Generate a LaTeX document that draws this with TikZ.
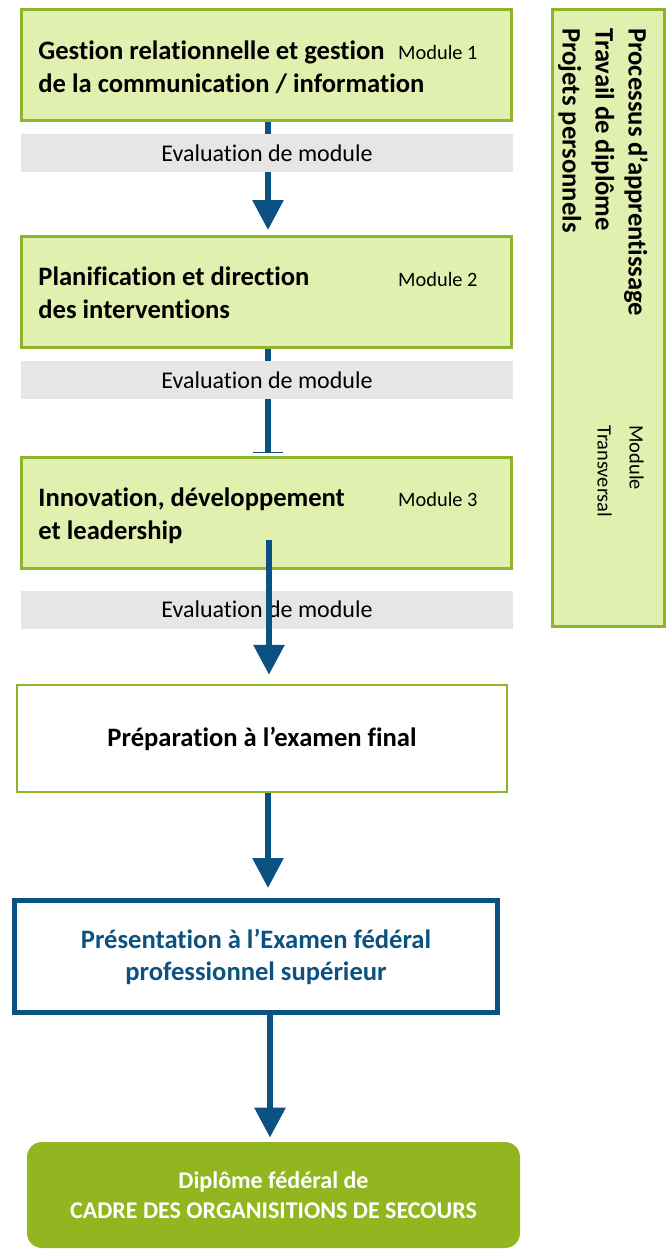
\documentclass[tikz,border=0pt]{standalone}
\usepackage{fontspec}
\setmainfont{Carlito}[Ligatures=NoCommon]
\usetikzlibrary{arrows.meta}
\usetikzlibrary{positioning}
\usetikzlibrary{backgrounds}
\usepackage{xcolor}

\definecolor{vertbord}{HTML}{8DB52B}
\definecolor{vertfond}{HTML}{E2F0AF}
\definecolor{vertfonce}{HTML}{92B620}
\definecolor{bleufleche}{HTML}{0B5283}
\definecolor{grisbande}{HTML}{E6E6E6}

\tikzset{
 modbox/.style={draw=vertbord, fill=vertfond, line width=1.5pt, inner sep=0pt,
   minimum width=245pt, minimum height=55.5pt},
 modtitre/.style={anchor=base west, align=left, inner sep=0pt,
   font=\fontsize{13.3}{16.5}\selectfont\bfseries},
 modnum/.style={anchor=base east, inner sep=0pt, font=\fontsize{10.2}{12}\selectfont},
 bande/.style={fill=grisbande, inner sep=0pt, minimum width=246pt, minimum height=19pt,
   font=\fontsize{12}{14}\selectfont},
 fleche/.style={draw=bleufleche, line width=3pt, -{Triangle[width=15pt,length=15pt]}},
}

\begin{document}
\begin{tikzpicture}[x=0.5pt,y=-0.5pt]
\useasboundingbox (0,0) rectangle (669,1250);

% module transversal (base = derniere ligne)
\node[modbox, minimum width=56pt, minimum height=308.5pt] (trans) at (608.5,318) {};
\node[modtitre, rotate=-90] (transtitre) at (562.5,28)
  {Processus d’apprentissage\\Travail de diplôme\\Projets personnels};
\node[modnum, anchor=base west, align=left, rotate=-90,
  font=\fontsize{10.2}{16}\selectfont] (transnum) at (597.5,425) {Module\\Transversal};

% modules 1-3
\node[modbox] (m1) at (266.5,65) {};
\node[modtitre] (t1) at (38,92) {Gestion relationnelle et gestion\\de la communication / information};
\node[modnum] (n1) at (478,59) {Module 1};

\node[modbox] (m2) at (266.5,291.5) {};
\node[modtitre] (t2) at (38,318) {Planification et direction\\des interventions};
\node[modnum] (n2) at (478,286) {Module 2};

\node[modbox] (m3) at (266.5,513) {};
\node[modtitre] (t3) at (38,539) {Innovation, développement\\et leadership};
\node[modnum] (n3) at (478,506) {Module 3};

% examen
\node[draw=vertbord, line width=1.25pt, minimum width=245pt, minimum height=53.5pt,
  font=\fontsize{13.3}{16.5}\selectfont\bfseries] (prep) at (262,738.5)
  {Préparation à l’examen final};
\node[draw=bleufleche, line width=2.5pt, minimum width=241.5pt, minimum height=56pt,
  align=center, text=bleufleche, font=\fontsize{13.3}{16}\selectfont\bfseries] (pres) at (256,956.5)
  {Présentation à l’Examen fédéral\\professionnel supérieur};
\node[fill=vertfonce, rounded corners=7.5pt, minimum width=246.5pt, minimum height=53pt,
  align=center, text=white, font=\fontsize{12}{15}\selectfont\bfseries] (dipl) at (273.5,1195)
  {Diplôme fédéral de\\CADRE DES ORGANISITIONS DE SECOURS};

% fleches sous les bandes
\begin{pgfonlayer}{background}
\draw[fleche] ([xshift=0.75pt]m1.south) -- ([xshift=0.75pt,yshift=2.25pt]m2.north);
\draw[draw=bleufleche, line width=3pt, -{Bar[width=15pt,line width=0.75pt]}]
  ([xshift=0.75pt]m2.south) -- ([xshift=0.75pt,yshift=1.5pt]m3.north);
\draw[fleche] ([xshift=3pt]prep.south) -- ([xshift=3pt,yshift=5pt]prep.south |- pres.north);
\draw[fleche] ([xshift=7pt]pres.south) -- ([xshift=7pt,yshift=2pt]pres.south |- dipl.north);
\end{pgfonlayer}

% evaluations
\node[bande] (e1) at (267,153) {Evaluation de module};
\node[bande] (e2) at (267,380) {Evaluation de module};
\node[bande] (e3) at (267,609.5) {Evaluation de module};

\coordinate (depart) at ([xshift=1.25pt,yshift=-13.5pt]m3.center);
\draw[fleche] (depart) -- ([yshift=4.5pt]depart |- prep.north);
\end{tikzpicture}
\end{document}
